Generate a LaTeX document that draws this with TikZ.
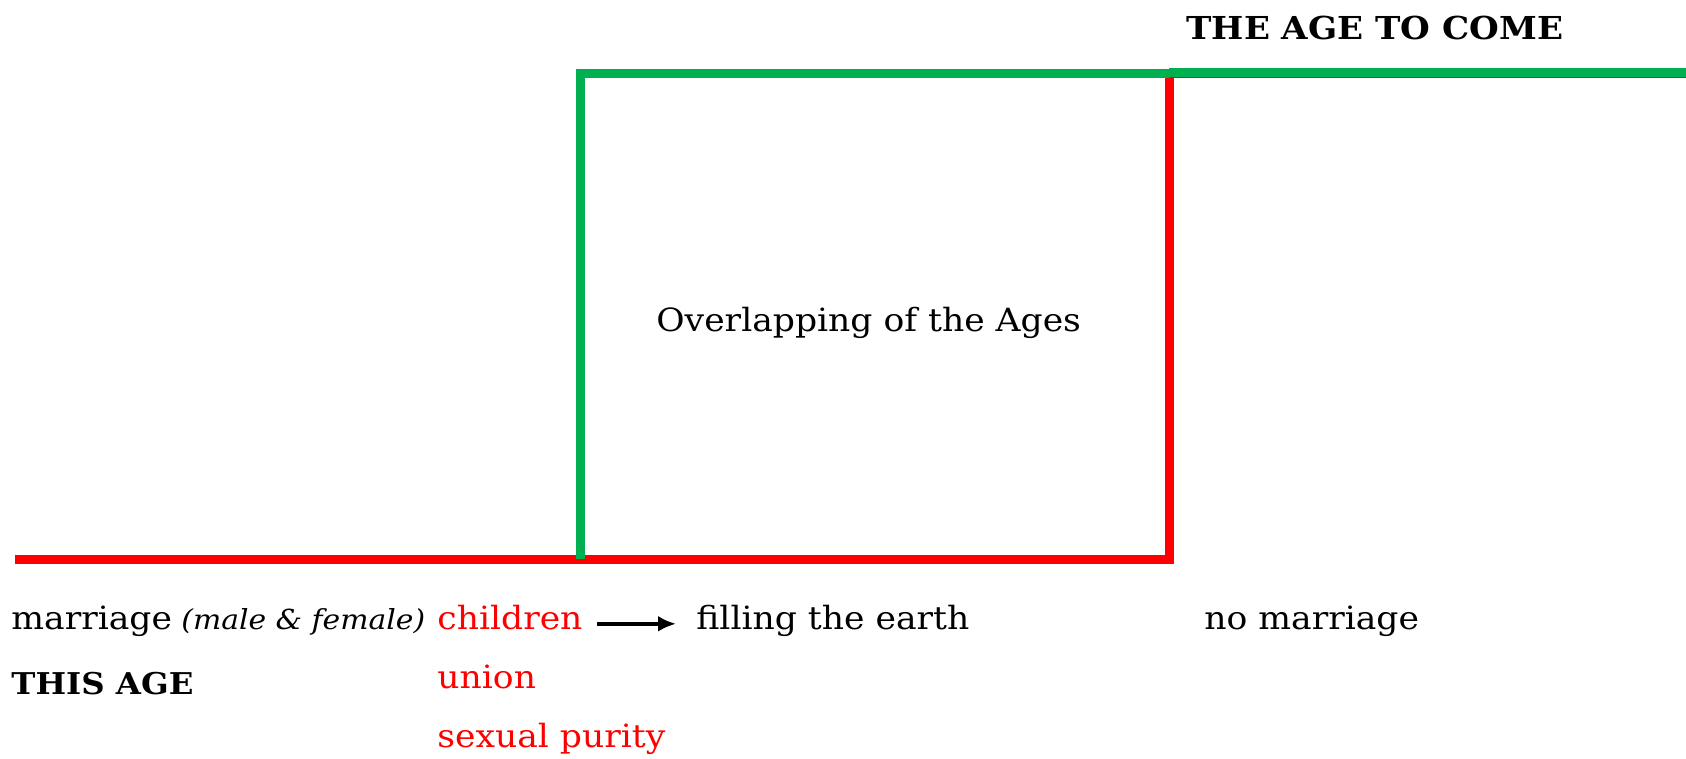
\documentclass[tikz,border=0pt]{standalone}
\usepackage{fontspec}
\setmainfont[FakeStretch=1.08]{DejaVu Serif}
\usepackage{tikz}
\usetikzlibrary{arrows,arrows.meta}
\definecolor{agegreen}{RGB}{0,176,80}

\begin{document}
\begin{tikzpicture}[x=0.5pt,y=-0.5pt,agestyle/.style={line width=4.5pt},txtstyle/.style={anchor=base west, inner sep=0pt, font=\fontsize{16}{19}\selectfont}]
    \useasboundingbox (0,0) rectangle (1686,759);
    \draw[agestyle,red](15,559)--(1169,559)--(1169,74)--(1686,74);
    \draw[agestyle,agegreen](580,559)--(580,74)--(1169,74);
    \draw[agestyle,agegreen](1169,72.5)--(1686,72.5);
    \node (n1) at (1186,40)[txtstyle,font=\fontsize{15.8}{20}\bfseries\selectfont]{THE AGE TO COME};
    \node (n2) at (656,331)[txtstyle]{Overlapping of the Ages};
    \node (n3) at (11,629)[txtstyle]{marriage};
    \node (n4) at (181,629)[txtstyle,font=\fontsize{13.8}{17}\itshape\selectfont]{(male \& female)};
    \node (n5) at (437,629)[txtstyle,red]{children};
    \node (n6) at (696,629)[txtstyle]{filling the earth};
    \node (n7) at (1204,629)[txtstyle]{no marriage};
    \node (n8) at (11,694)[txtstyle,font=\fontsize{15}{19}\bfseries\selectfont]{THIS AGE};
    \node (n9) at (437,688)[txtstyle,red]{union};
    \node (n10) at (437,747)[txtstyle,red]{sexual purity};
    \draw[-{Latex[length=9pt,width=8pt]},line width=2pt,shorten <=7pt,shorten >=10pt](n5.mid east)--(n6.mid west);
\end{tikzpicture}
\end{document}
